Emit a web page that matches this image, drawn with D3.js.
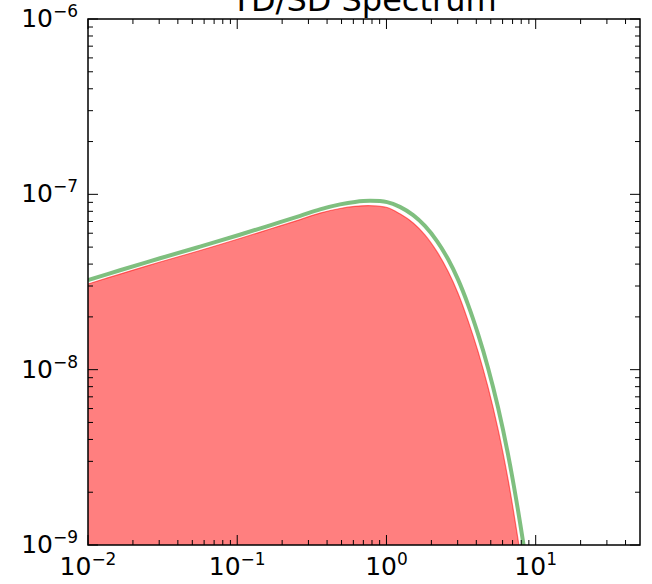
<!DOCTYPE html>
<html>
<head>
<meta charset="utf-8">
<script src="https://cdn.jsdelivr.net/npm/d3@7"></script>
<style>
  body { margin: 0; background: #fff; }
  svg { display: block; font-family: "DejaVu Sans", sans-serif; }
</style>
</head>
<body>
<svg width="652" height="584"></svg>
<script>
// energy grid and spectrum values
var energy = [0.01, 0.0164, 0.0304, 0.0563, 0.104, 0.166, 0.264, 0.359, 0.489, 0.616, 0.776,
              1.01, 1.23, 1.51, 1.81, 2.18, 2.59, 3.02, 3.52, 4.11, 4.80, 5.60, 6.53, 7.62, 8.89, 10.4];
// filled component (red)
var sdFlux = [3.08e-8, 3.51e-8, 4.11e-8, 4.78e-8, 5.60e-8, 6.34e-8, 7.18e-8, 7.82e-8, 8.30e-8, 8.54e-8, 8.62e-8,
              8.41e-8, 7.74e-8, 6.87e-8, 5.87e-8, 4.71e-8, 3.63e-8, 2.72e-8, 1.905e-8, 1.268e-8, 7.90e-9,
              4.55e-9, 2.36e-9, 1.07e-9, 4.4e-10, 1.55e-10];
// total (green line)
var tdFlux = [3.24e-8, 3.69e-8, 4.32e-8, 5.03e-8, 5.88e-8, 6.66e-8, 7.54e-8, 8.21e-8, 8.76e-8, 9.05e-8, 9.18e-8,
              9.03e-8, 8.48e-8, 7.61e-8, 6.60e-8, 5.41e-8, 4.26e-8, 3.26e-8, 2.35e-8, 1.594e-8, 1.020e-8,
              6.06e-9, 3.28e-9, 1.571e-9, 6.73e-10, 2.51e-10];

var xMajor = [-2, -1, 0, 1];
var yMajor = [-9, -8, -7, -6];

var svg = d3.select("svg"),
    margin = {top: 19, right: 12, bottom: 39, left: 88},
    width = +svg.attr("width") - margin.left - margin.right,
    height = +svg.attr("height") - margin.top - margin.bottom;

var x = d3.scaleLog().domain([0.01, 50]).range([0, width]);
var y = d3.scaleLog().domain([1e-9, 1e-6]).range([height, 0]);

var g = svg.append("g").attr("transform", "translate(" + margin.left + "," + margin.top + ")");

g.append("clipPath").attr("id", "clip")
  .append("rect").attr("width", width).attr("height", height);

var red = energy.map(function(d, i) { return {x: d, y: sdFlux[i]}; });
var green = energy.map(function(d, i) { return {x: d, y: tdFlux[i]}; });

var area = d3.area()
    .x(function(d) { return x(d.x); })
    .y0(height)
    .y1(function(d) { return y(d.y); })
    .curve(d3.curveCatmullRom);

var line = d3.line()
    .x(function(d) { return x(d.x); })
    .y(function(d) { return y(d.y); })
    .curve(d3.curveCatmullRom);

var plot = g.append("g").attr("clip-path", "url(#clip)");

plot.append("path")
  .datum(red)
  .attr("d", area)
  .attr("fill", "#ff7f7f");

plot.append("path")
  .datum(red)
  .attr("d", line)
  .attr("fill", "none")
  .attr("stroke", "red")
  .attr("stroke-opacity", 0.5)
  .attr("stroke-width", 1.2);

plot.append("path")
  .datum(green)
  .attr("d", line)
  .attr("fill", "none")
  .attr("stroke", "green")
  .attr("stroke-opacity", 0.5)
  .attr("stroke-width", 4);

// ticks (inside, on all four sides)
var xMinor = [], yMinor = [];
xMajor.forEach(function(e) {
  for (var k = 2; k < 10; k++) {
    var v = k * Math.pow(10, e);
    if (v < 50) xMinor.push(v);
  }
});
yMajor.slice(0, 3).forEach(function(e) {
  for (var k = 2; k < 10; k++) yMinor.push(k * Math.pow(10, e));
});

var ticks = g.append("g").attr("stroke", "black").attr("stroke-width", 1);

function xTicks(vals, len) {
  vals.forEach(function(v) {
    var px = x(v);
    ticks.append("line").attr("x1", px).attr("x2", px).attr("y1", height).attr("y2", height - len);
    ticks.append("line").attr("x1", px).attr("x2", px).attr("y1", 0).attr("y2", len);
  });
}
function yTicks(vals, len) {
  vals.forEach(function(v) {
    var py = y(v);
    ticks.append("line").attr("x1", 0).attr("x2", len).attr("y1", py).attr("y2", py);
    ticks.append("line").attr("x1", width).attr("x2", width - len).attr("y1", py).attr("y2", py);
  });
}
xTicks(xMajor.map(function(e) { return Math.pow(10, e); }), 10);
xTicks(xMinor, 5);
yTicks(yMajor.map(function(e) { return Math.pow(10, e); }), 10);
yTicks(yMinor, 5);

g.append("rect")
  .attr("width", width)
  .attr("height", height)
  .attr("fill", "none")
  .attr("stroke", "black")
  .attr("stroke-width", 1.5);

function expLabel(sel, e) {
  sel.append("tspan").text("10");
  sel.append("tspan").attr("dy", -10).attr("font-size", 17)
    .text(e < 0 ? "\u2212" + (-e) : String(e));
}

xMajor.forEach(function(e) {
  var t = g.append("text")
    .attr("x", x(Math.pow(10, e)))
    .attr("y", height + 30)
    .attr("text-anchor", "middle")
    .attr("font-size", 25)
    .attr("fill", "black");
  expLabel(t, e);
});

yMajor.forEach(function(e) {
  var t = g.append("text")
    .attr("x", -10)
    .attr("y", y(Math.pow(10, e)) + 8)
    .attr("text-anchor", "end")
    .attr("font-size", 25)
    .attr("fill", "black");
  expLabel(t, e);
});

g.append("text")
  .attr("x", width / 2)
  .attr("y", -8)
  .attr("text-anchor", "middle")
  .attr("font-size", 32)
  .text("TD/SD Spectrum");
</script>
</body>
</html>
